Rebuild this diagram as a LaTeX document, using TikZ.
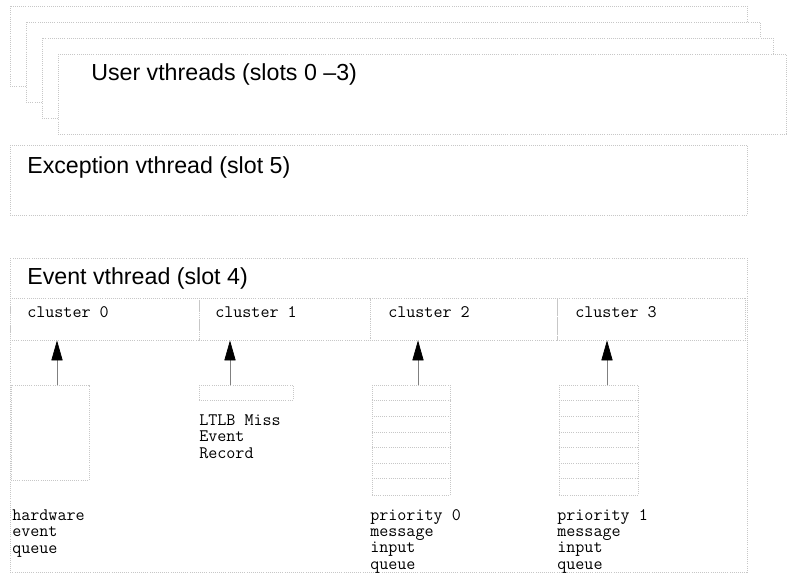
\documentclass[tikz,border=0pt]{standalone}
\usepackage{fontspec}
\setmainfont{Liberation Sans}
\usetikzlibrary{arrows.meta, positioning, calc}

\begin{document}
\begin{tikzpicture}[
        x=0.025cm, y=-0.025cm,
        frame/.style={draw=black!22, densely dotted, line width=0.5pt},
        title/.style={anchor=base west, inner sep=0pt, font=\fontsize{16.5}{19}\selectfont},
        mono/.style={anchor=base west, inner sep=0pt, align=left, font=\ttfamily\fontsize{12.5}{11.4}\selectfont},
        clusterbox/.style={frame, rectangle, minimum height=1.05cm, inner sep=0pt},
        queuebox/.style={frame, rectangle, minimum width=1.95cm, inner sep=0pt},
        feed/.style={draw=black!50, line width=0.5pt, -{Triangle[length=0.5cm, width=0.28cm, color=black]}}
    ]
        \useasboundingbox (0,0) rectangle (787,575);

        % User vthreads, stacked slots
        \foreach \i in {0,...,3} {
            \draw[frame, fill=white] (10+16*\i, 6+16*\i) rectangle (747+13*\i, 86+16*\i);
        }
        \node[title] (user) at (91,80) {User vthreads (slots 0 --3)};

        % Exception vthread
        \draw[frame] (10,145) rectangle (747,215);
        \node[title] (exc) at (27,173) {Exception vthread (slot 5)};

        % Event vthread
        \draw[frame] (10,258) rectangle (747,572);
        \node[title] (evt) at (27,284) {Event vthread (slot 4)};

        % Clusters
        \node[clusterbox, minimum width=4.725cm] (c0) at (104.5,319) {};
        \node[clusterbox, minimum width=4.275cm] (c1) at (284.5,319) {};
        \node[clusterbox, minimum width=4.675cm] (c2) at (463.5,319) {};
        \node[clusterbox, minimum width=4.7cm] (c3) at (651,319) {};
        \node[mono] (c0lab) at (27,317) {cluster 0};
        \node[mono] (c1lab) at (215,317) {cluster 1};
        \node[mono] (c2lab) at (388,317) {cluster 2};
        \node[mono] (c3lab) at (575,317) {cluster 3};

        % Queues
        \node[queuebox, minimum height=2.375cm] (q0) at (50,432.5) {};
        \node[frame, rectangle, inner sep=0pt, minimum width=2.35cm, minimum height=0.375cm] (q1) at (246,392.5) {};
        \node[queuebox, minimum height=2.75cm] (q2) at (411,440) {};
        \node[queuebox, minimum width=1.975cm, minimum height=2.75cm] (q3) at (598.5,440) {};
        \foreach \q in {q2,q3} {
            \foreach \y in {400,416,432,447,463,478} {
                \draw[frame] (\q.west |- 0,\y) -- (\q.east |- 0,\y);
            }
        }

        % Feeds into clusters
        \coordinate (t0) at (57,385);
        \coordinate (t1) at (230,385);
        \coordinate (t2) at (418,385);
        \coordinate (t3) at (607,385);
        \foreach \k in {0,...,3} {
            \draw[feed] (t\k) -- (t\k |- c\k.south);
        }

        % Labels (base = last line)
        \node[mono] (rec) at (199,458) {LTLB Miss\\Event\\Record};
        \node[mono] (hwq) at (12,553) {hardware\\event\\queue};
        \node[mono] (p0q) at (370,569) {priority 0\\message\\input\\queue};
        \node[mono] (p1q) at (557,569) {priority 1\\message\\input\\queue};
    \end{tikzpicture}
\end{document}
